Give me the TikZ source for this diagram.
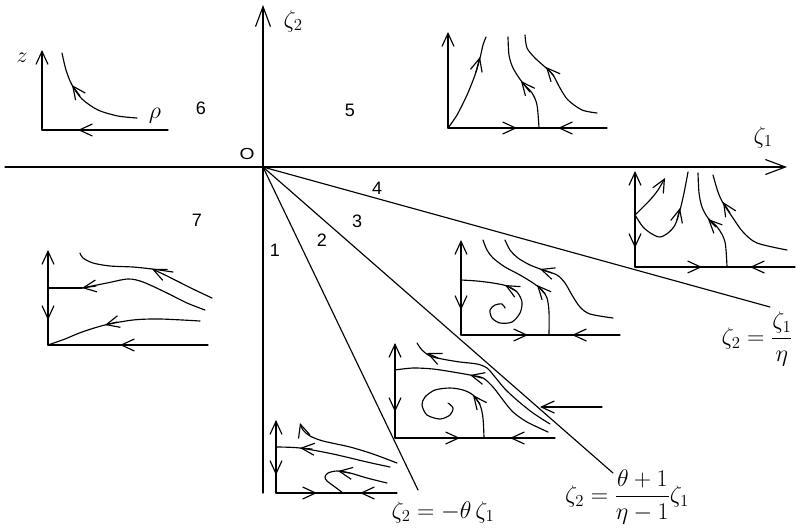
\documentclass[tikz,border=0pt]{standalone}
\usepackage{fix-cm}
\usepackage{fontspec}
\usepackage{amsmath}
\newfontfamily\numfont{Liberation Sans}
\usetikzlibrary{arrows.meta}
\tikzset{
  vtip/.tip={Straight Barb[length=13pt,width=12pt]},
  axtip/.tip={Straight Barb[length=20pt,width=15pt]},
  num/.style={font=\numfont\fontsize{18}{18}\selectfont, inner sep=0pt},
  lbl/.style={inner sep=0pt, font=\fontsize{22}{22}\selectfont},
  flbl/.style={inner sep=0pt, font=\fontsize{24}{24}\selectfont},
}
\begin{document}
\begin{tikzpicture}[x=1pt,y=-1pt,line width=1.15pt,line cap=round,line join=round]
\fill[white] (0,0) rectangle (797,528);
\useasboundingbox (0,0) rectangle (797,528);
\coordinate (O) at (263,167);
\coordinate (xend) at (787,167);
\coordinate (xstart) at (5,167);
\coordinate (yend) at (263,5);
\coordinate (ystart) at (263,493);
\coordinate (r4) at (770,307);
\coordinate (r3) at (613,473);
\coordinate (r2) at (418,490);
% main axes and rays
\draw[-axtip] (xstart) -- (xend);
\draw[-axtip] (ystart) -- (yend);
\draw (O) -- (r4);
\draw (O) -- (r3);
\draw (O) -- (r2);
% labels
\node[lbl,font=\fontsize{24}{24}\selectfont] (lz2) at (293,21) {$\zeta_2$};
\node[lbl,font=\fontsize{24}{24}\selectfont] (lz1) at (763,137) {$\zeta_1$};
\node[num,font=\numfont\fontsize{16}{16}\selectfont,xscale=1.2] (lO) at (247,154) {O};
\node[num] (n6) at (201,108) {6};
\node[num] (n5) at (350,110) {5};
\node[num] (n7) at (197,220) {7};
\node[num] (n4) at (377,188) {4};
\node[num] (n3) at (357,221) {3};
\node[num] (n2) at (322,240) {2};
\node[num] (n1) at (275,250) {1};
\node[lbl] (lzz) at (22,58) {$z$};
\node[lbl,font=\fontsize{24}{24}\selectfont] (lrho) at (155,116) {$\rho$};
\node[flbl] (f4) at (757,339) {$\zeta_2=\dfrac{\zeta_1}{\eta}$};
\node[flbl] (f3) at (627,497) {$\zeta_2=\dfrac{\theta+1}{\eta-1}\zeta_1$};
\node[flbl] (f2) at (443,512) {$\zeta_2=-\theta\,\zeta_1$};
% ---- portrait 6
\draw[-vtip] (42,130) -- (42,50);
\draw (42,130) -- (168,130);
\draw[-vtip] (100,130) -- (78,130);
\draw plot[smooth] coordinates {(62,53) (66,70) (72,85) (82,99) (98,110) (118,116) (137,118)};
\draw[-vtip] (80,96) -- (72,85);
% ---- portrait 5
\draw[-vtip] (448,128) -- (448,32);
\draw (448,128) -- (607,128);
\draw[-vtip] (497,128) -- (517,128);
\draw[-vtip] (578,128) -- (558,128);
\draw plot[smooth] coordinates {(448,128) (457,115) (467,95) (475,75) (480,58) (483,45) (486,37)};
\draw[-vtip] (476,72) -- (480,57);
\draw plot[smooth] coordinates {(508,37) (509,55) (513,68) (522,82) (532,93) (537,105) (539,128)};
\draw[-vtip] (530,92) -- (521,81);
\draw plot[smooth] coordinates {(525,35) (527,48) (535,58) (545,67) (553,75) (560,88) (568,100) (582,110) (597,113)};
\draw[-vtip] (554,76) -- (546,67);
% ---- portrait 4
\draw (635,267) -- (635,215);
\draw[-vtip] (635,215) -- (635,171);
\draw[-vtip] (635,215) -- (635,248);
\draw (635,267) -- (795,267);
\draw[-vtip] (682,267) -- (702,267);
\draw[-vtip] (770,267) -- (750,267);
\draw[-vtip] plot[smooth] coordinates {(635,215) (650,200) (658,190) (665,178)};
\draw plot[smooth] coordinates {(635,215) (643,227) (652,234) (660,237) (668,233) (675,225) (680,210) (684,193) (688,172)};
\draw[-vtip] (677,220) -- (680,208);
\draw plot[smooth] coordinates {(698,173) (699,193) (702,207) (708,218) (718,228) (725,242) (727,267)};
\draw[-vtip] (716,227) -- (708,219);
\draw plot[smooth] coordinates {(713,175) (718,192) (723,203) (733,218) (743,232) (757,243) (787,250)};
\draw[-vtip] (730,213) -- (723,202);
% ---- portrait 3
\draw[-vtip] (461,280) -- (461,240);
\draw (461,280) -- (461,335);
\draw[-vtip] (461,280) -- (461,310);
\draw (461,335) -- (620,335);
\draw[-vtip] (510,335) -- (528,335);
\draw[-vtip] (590,335) -- (572,335);
\draw plot[smooth] coordinates {(461,280) (477,281) (493,283) (507,286) (517,292) (522,302) (520,313) (512,322) (500,323) (492,318) (490,310) (495,305) (502,304) (505,308)};
\draw[-vtip] (516,291) -- (505,285);
\draw plot[smooth] coordinates {(483,240) (487,250) (493,258) (505,267) (520,275) (533,283) (542,290) (547,298) (549,312) (549,335)};
\draw[-vtip] (545,294) -- (537,285);
\draw plot[smooth] coordinates {(505,240) (510,250) (518,258) (530,265) (543,270) (557,275) (565,283) (572,295) (580,307) (590,314) (613,318)};
\draw[-vtip] (552,273) -- (540,269);
% ---- portrait 2
\draw[-vtip] (395,370) -- (395,343);
\draw (395,370) -- (395,438);
\draw[-vtip] (395,370) -- (395,412);
\draw (395,438) -- (555,438);
\draw[-vtip] (442,438) -- (460,438);
\draw[-vtip] (530,438) -- (510,438);
\draw[-vtip] (602,407) -- (540,407);
\draw plot[smooth] coordinates {(417,343) (422,350) (430,356) (442,359) (460,362) (477,364) (487,368) (495,377) (505,389) (518,401) (533,413) (550,424)};
\draw[-vtip] (438,358) -- (427,353);
\draw plot[smooth] coordinates {(395,370) (413,368) (433,369) (453,372) (470,375) (483,378) (493,387) (503,400) (513,412) (527,422) (548,432)};
\draw[-vtip] (482,378) -- (470,375);
\draw plot[smooth] coordinates {(484,438) (483,418) (480,405) (473,395) (463,390) (450,388) (435,390) (425,397) (422,405) (427,415) (440,419) (450,415) (453,408) (448,403)};
\draw[-vtip] (480,404) -- (473,395);
% ---- portrait 1
\draw[-vtip] (276,447) -- (276,420);
\draw (276,447) -- (276,493);
\draw[-vtip] (276,447) -- (276,475);
\draw (276,493) -- (397,493);
\draw[-vtip] (299,493) -- (317,493);
\draw[-vtip] (378,493) -- (360,493);
\draw[-vtip] plot[smooth] coordinates {(397,463) (373,454) (350,447) (323,441) (310,436) (303,430) (300,423)};
\draw plot[smooth] coordinates {(276,447) (300,448) (333,454) (367,462) (390,467)};
\draw[-vtip] (312,449) -- (300,448);
\draw plot[smooth] coordinates {(343,493) (335,487) (327,481) (325,477) (328,473) (337,471) (350,473) (367,478) (387,483)};
\draw[-vtip] (350,473) -- (338,471);
% ---- portrait 7
\draw[-vtip] (48,288) -- (48,250);
\draw (48,288) -- (48,345);
\draw[-vtip] (48,288) -- (48,320);
\draw (48,345) -- (208,345);
\draw[-vtip] (140,345) -- (120,345);
\draw plot[smooth] coordinates {(80,253) (83,258) (93,263) (110,266) (133,267) (152,269) (173,272)};
\draw[-vtip] plot[smooth] coordinates {(212,298) (195,290) (177,281) (163,274) (152,269)};
\draw (48,288) -- (82,288);
\draw plot[smooth] coordinates {(82,288) (107,283) (128,279) (143,282) (167,293) (187,303) (205,310)};
\draw[-vtip] (96,286) -- (82,288);
\draw plot[smooth] coordinates {(48,345) (65,339) (82,332) (105,325) (133,320) (160,319) (200,321)};
\draw[-vtip] (117,322) -- (105,325);
\end{tikzpicture}
\end{document}
